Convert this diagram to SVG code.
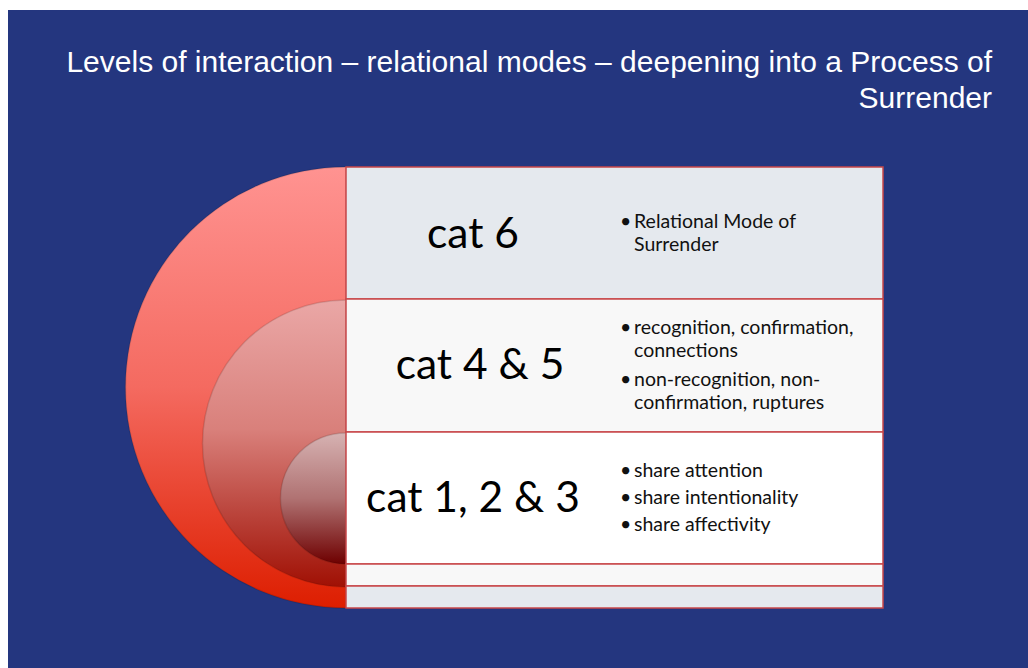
<svg xmlns="http://www.w3.org/2000/svg" width="1028" height="668" viewBox="0 0 1028 668">
  <defs>
    <linearGradient id="gOuter" x1="0" y1="0" x2="0" y2="1">
      <stop offset="0" stop-color="#FF9391"/>
      <stop offset="0.5" stop-color="#F46A60"/>
      <stop offset="1" stop-color="#DD1E00"/>
    </linearGradient>
    <linearGradient id="gMiddle" x1="0" y1="0" x2="0" y2="1">
      <stop offset="0" stop-color="#EAA7A6"/>
      <stop offset="0.45" stop-color="#D9807B"/>
      <stop offset="1" stop-color="#A01004"/>
    </linearGradient>
    <linearGradient id="gInner" x1="0" y1="0" x2="0" y2="1">
      <stop offset="0" stop-color="#D6B2B2"/>
      <stop offset="0.5" stop-color="#B07272"/>
      <stop offset="1" stop-color="#6E0000"/>
    </linearGradient>
  </defs>
  <style>
    .title { font-family: "Liberation Sans", Arial, sans-serif; font-size: 30px; fill: #FFFFFF; }
    .cat { font-family: Lato, "Open Sans", sans-serif; font-size: 42.5px; fill: #000000; text-anchor: middle; }
    .item { font-family: Lato, "Open Sans", sans-serif; font-size: 19.5px; fill: #111111; }
    .band { stroke: #C8474A; stroke-width: 1.5; }
    .disc { stroke: #000000; stroke-opacity: 0.12; stroke-width: 1.5; }
  </style>

  <!-- page and slide background -->
  <rect x="0" y="0" width="1028" height="668" fill="#FFFFFF"/>
  <rect x="8" y="10" width="1020" height="658" fill="#24367F"/>

  <!-- heading -->
  <g id="title">
    <text class="title" x="992" y="72" text-anchor="end">Levels of interaction – relational modes – deepening into a Process of</text>
    <text class="title" x="992" y="108" text-anchor="end">Surrender</text>
  </g>

  <!-- nested half discs -->
  <g id="disc-outer">
    <path class="disc" d="M346 167 A220.5 220.5 0 0 0 346 608 Z" fill="url(#gOuter)"/>
  </g>
  <g id="disc-middle">
    <path class="disc" d="M346 300 A143.5 143.5 0 0 0 346 587 Z" fill="url(#gMiddle)"/>
  </g>
  <g id="disc-inner">
    <path class="disc" d="M346 433 A65.5 65.5 0 0 0 346 564 Z" fill="url(#gInner)"/>
  </g>

  <!-- level bands -->
  <g id="level-cat6">
    <rect class="band" x="346" y="167" width="537" height="132" fill="#E5E9EE"/>
    <text class="cat" x="473" y="248">cat 6</text>
    <text class="item" x="620" y="228">•</text>
    <text class="item" x="634" y="228">Relational Mode of</text>
    <text class="item" x="634" y="251">Surrender</text>
  </g>
  <g id="level-cat45">
    <rect class="band" x="346" y="299" width="537" height="133" fill="#F8F8F8"/>
    <text class="cat" x="480" y="379">cat 4 &amp; 5</text>
    <text class="item" x="620" y="334">•</text>
    <text class="item" x="634" y="334">recognition, confirmation,</text>
    <text class="item" x="634" y="357">connections</text>
    <text class="item" x="620" y="386">•</text>
    <text class="item" x="634" y="386">non-recognition, non-</text>
    <text class="item" x="634" y="409">confirmation, ruptures</text>
  </g>
  <g id="level-cat123">
    <rect class="band" x="346" y="432" width="537" height="132" fill="#FFFFFF"/>
    <text class="cat" x="473" y="512">cat 1, 2 &amp; 3</text>
    <text class="item" x="620" y="477">•</text>
    <text class="item" x="634" y="477">share attention</text>
    <text class="item" x="620" y="504">•</text>
    <text class="item" x="634" y="504">share intentionality</text>
    <text class="item" x="620" y="531">•</text>
    <text class="item" x="634" y="531">share affectivity</text>
  </g>
  <g id="level-strip-a">
    <rect class="band" x="346" y="564" width="537" height="22" fill="#F8F8F8"/>
  </g>
  <g id="level-strip-b">
    <rect class="band" x="346" y="586" width="537" height="22" fill="#E5E9EE"/>
  </g>

  <!-- no connectors in this figure -->
  <g id="connectors"/>
</svg>
